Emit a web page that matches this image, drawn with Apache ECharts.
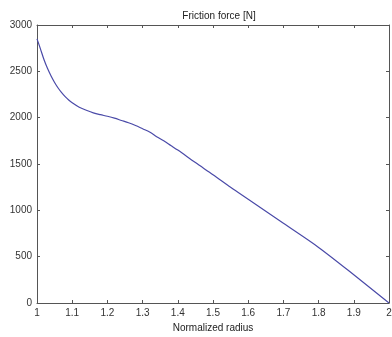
<!DOCTYPE html>
<html>
<head>
<meta charset="utf-8">
<script src="https://cdn.jsdelivr.net/npm/echarts@6/dist/echarts.min.js"></script>
<style>
html,body{margin:0;padding:0;background:#fff;}
#chart{width:392px;height:337px;}
</style>
</head>
<body>
<div id="chart"></div>
<script>
// Normalized radius samples and friction force [N] along the radius
const radius = [1.00,1.01,1.02,1.03,1.04,1.05,1.06,1.07,1.08,1.09,1.10,1.12,1.14,1.16,1.18,1.20,1.22,1.24,1.26,1.28,1.30,1.32,1.34,1.36,1.38,1.40,1.45,1.50,1.55,1.60,1.70,1.80,1.90,2.00];
const force  = [2850,2740,2625,2530,2450,2380,2320,2270,2227,2190,2160,2112,2080,2052,2032,2015,1995,1970,1945,1915,1880,1845,1795,1750,1700,1650,1515,1385,1250,1120,860,600,305,0];
const xTicks = [1,1.1,1.2,1.3,1.4,1.5,1.6,1.7,1.8,1.9,2];
const yTicks = [0,500,1000,1500,2000,2500,3000];

const axisColor = '#555';
const font = 'Arial, "Liberation Sans", sans-serif';

const chart = echarts.init(document.getElementById('chart'));
const tickStyle = {show:true, inside:true, length:3, lineStyle:{color:axisColor, width:1}};
const lineStyle = {show:true, onZero:false, lineStyle:{color:axisColor, width:1}};

chart.setOption({
  animation:false,
  backgroundColor:'#fff',
  title:{
    text:'Friction force [N]',
    left:214, top:6, textAlign:'center',
    textStyle:{fontFamily:font, fontSize:10, fontWeight:'normal', color:'#222'}
  },
  grid:{left:37, top:25, right:3, bottom:34, outerBoundsMode:'none'},
  xAxis:[{
    type:'value', min:1, max:2, interval:0.1,
    name:'Normalized radius', nameLocation:'middle', nameGap:19,
    nameTextStyle:{fontFamily:font, fontSize:10, color:'#222'},
    axisLine:lineStyle, axisTick:tickStyle, splitLine:{show:false},
    axisLabel:{fontFamily:font, fontSize:10, color:'#333', margin:5, hideOverlap:false,
      formatter:v => { const t = xTicks.find(k => Math.abs(k - v) < 1e-6); return t === undefined ? '' : String(t); }}
  },{
    type:'value', position:'top', min:1, max:2, interval:0.1,
    axisLine:lineStyle, axisTick:tickStyle, axisLabel:{show:false}, splitLine:{show:false}
  }],
  yAxis:[{
    type:'value', min:0, max:3000, interval:500,
    axisLine:lineStyle, axisTick:tickStyle, splitLine:{show:false},
    axisLabel:{fontFamily:font, fontSize:10, color:'#333', margin:5,
      formatter:v => yTicks.includes(v) ? String(v) : ''}
  },{
    type:'value', position:'right', min:0, max:3000, interval:500,
    axisLine:lineStyle, axisTick:tickStyle, axisLabel:{show:false}, splitLine:{show:false}
  }],
  series:[{
    type:'line',
    data:radius.map((r,i) => [r, force[i]]),
    smooth:0.3,
    showSymbol:false,
    lineStyle:{color:'#4a4aa8', width:1.2}
  }]
});
</script>
</body>
</html>
